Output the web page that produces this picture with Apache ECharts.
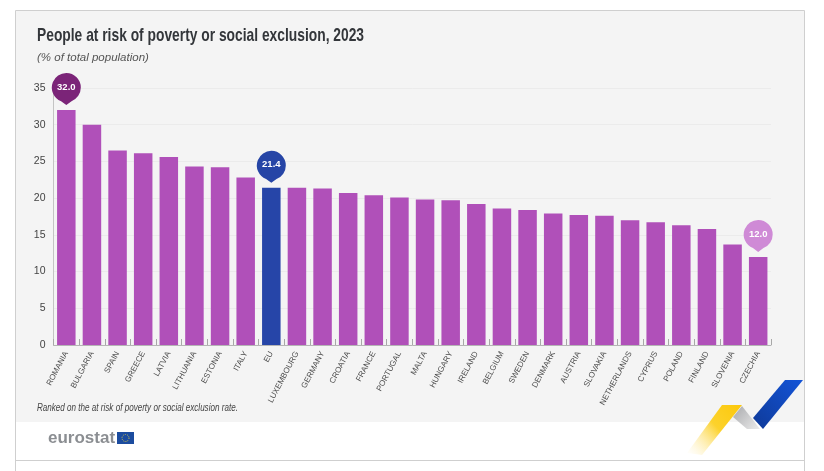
<!DOCTYPE html>
<html>
<head>
<meta charset="utf-8">
<style>
html,body{margin:0;padding:0;background:#fff;}
#main{width:824px;height:471px;}
</style>
<script src="https://cdn.jsdelivr.net/npm/echarts@6/dist/echarts.min.js"></script>
</head>
<body>
<div id="main"></div>
<script>
let categories=['ROMANIA','BULGARIA','SPAIN','GREECE','LATVIA','LITHUANIA','ESTONIA','ITALY','EU','LUXEMBOURG','GERMANY','CROATIA','FRANCE','PORTUGAL','MALTA','HUNGARY','IRELAND','BELGIUM','SWEDEN','DENMARK','AUSTRIA','SLOVAKIA','NETHERLANDS','CYPRUS','POLAND','FINLAND','SLOVENIA','CZECHIA'];
let rates=[32.0,30.0,26.5,26.1,25.6,24.3,24.2,22.8,21.4,21.4,21.3,20.7,20.4,20.1,19.8,19.7,19.2,18.6,18.4,17.9,17.7,17.6,17.0,16.7,16.3,15.8,13.7,12.0];
let pins=['ROMANIA','EU','CZECHIA'];
let pinColors=['#7b2478','#2645a6','#cf8ad6'];

const FONT='"Liberation Sans",sans-serif';
//圆形标记,下方带小尖角
const PIN='path://M50 0A50 50 0 0 1 68 96.6L50 110L32 96.6A50 50 0 0 1 50 0Z';

function barColor(name){
    return name==='EU'?'#2645a8':'#b050b9';
}

let option={
    animation:false,
    backgroundColor:'#fff',
    textStyle:{fontFamily:FONT},
    grid:{left:53.5,right:53,top:88,bottom:126},
    xAxis:{
        type:'category',
        data:categories,
        axisLine:{show:true,lineStyle:{color:'#b5b5b5',width:1}},
        axisTick:{show:true,inside:true,length:6,alignWithLabel:false,lineStyle:{color:'#a8a8a8'}},
        axisLabel:{interval:0,rotate:62,color:'#4c4c4c',fontSize:8,fontFamily:FONT,margin:7}
    },
    yAxis:{
        type:'value',
        min:0,
        max:35,
        interval:5,
        axisLine:{show:true,lineStyle:{color:'#c4c4c4',width:1}},
        axisTick:{show:false},
        axisLabel:{color:'#444',fontSize:10.5,fontFamily:FONT,margin:8},
        splitLine:{show:true,lineStyle:{color:'#ebebeb',width:1}}
    },
    series:[{
        name:'People at risk',
        type:'bar',
        barWidth:18.5,
        data:rates.map(function(v,i){
            return {value:v,itemStyle:{color:barColor(categories[i])}};
        }),
        markPoint:{
            symbol:PIN,
            symbolSize:[29,32],
            symbolOffset:[0,-21],
            silent:true,
            label:{show:true,color:'#fff',fontSize:9.5,fontWeight:'bold',fontFamily:FONT,offset:[0,-2],
                formatter:function(p){return p.value.toFixed(1);}},
            data:pins.map(function(name,i){
                return {
                    coord:[name,rates[categories.indexOf(name)]],
                    value:rates[categories.indexOf(name)],
                    itemStyle:{color:pinColors[i]}
                };
            })
        }
    }],
    graphic:[
        {type:'rect',z:-10,silent:true,shape:{x:16,y:11,width:788,height:411},style:{fill:'#f4f4f4'}},
        {type:'polyline',z:-9,silent:true,shape:{points:[[15.5,471],[15.5,10.5],[804.5,10.5],[804.5,471]]},style:{fill:null,stroke:'#cfcfcf',lineWidth:1}},
        {type:'line',z:-9,silent:true,shape:{x1:15.5,y1:460.5,x2:804.5,y2:460.5},style:{stroke:'#cfcfcf',lineWidth:1}},
        //没有窄体字,用 scaleX 压缩
        {type:'text',x:37,y:26,scaleX:0.727,style:{text:'People at risk of poverty or social exclusion, 2023',fill:'#33363a',font:'bold 19px '+FONT}},
        {type:'text',x:37,y:52,style:{text:'(% of total population)',fill:'#555',font:'italic 11.5px '+FONT}},
        {type:'text',x:37,y:403,scaleX:0.77,style:{text:'Ranked on the at risk of poverty or social exclusion rate.',fill:'#444',font:'italic 10.5px '+FONT}},
        {type:'text',x:48,y:430,style:{text:'eurostat',fill:'#8b8e92',font:'bold 17px '+FONT}},
        {type:'rect',silent:true,shape:{x:117,y:432,width:17,height:12},style:{fill:'#1c4c9f'}},
        {type:'circle',silent:true,shape:{cx:125.5,cy:438,r:3.5},style:{fill:null,stroke:'#d9c94a',lineWidth:1,lineDash:[1,1.2]}},
        {type:'polygon',silent:true,shape:{points:[[722,405],[742,405],[702,455],[687,453]]},
            style:{fill:{type:'linear',x:1,y:0,x2:0,y2:1,colorStops:[{offset:0,color:'#fcc80a'},{offset:0.45,color:'#fcd22c'},{offset:1,color:'rgba(255,240,190,0)'}]}}},
        {type:'polygon',silent:true,shape:{points:[[742,406],[733,417],[747,429],[760,429]]},
            style:{fill:{type:'linear',x:0,y:0,x2:1,y2:1,colorStops:[{offset:0,color:'#a8a9ac'},{offset:1,color:'#ececec'}]}}},
        {type:'polygon',silent:true,shape:{points:[[785,380],[803,380],[763,429],[753,418]]},
            style:{fill:{type:'linear',x:1,y:0,x2:0,y2:1,colorStops:[{offset:0,color:'#1354d8'},{offset:1,color:'#0f3a98'}]}}}
    ]
};

let chart=echarts.init(document.getElementById('main'));
chart.setOption(option);
</script>
</body>
</html>
